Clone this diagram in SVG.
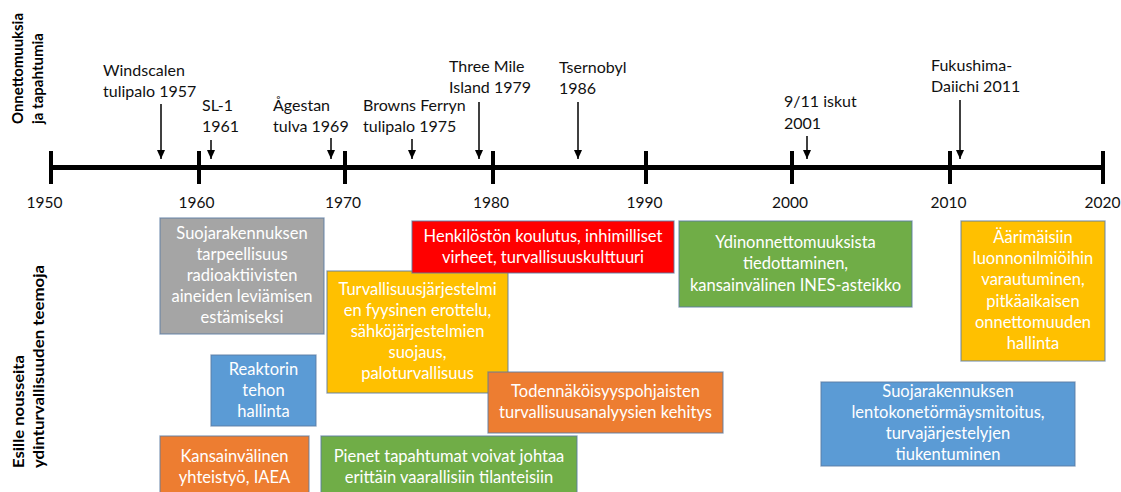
<svg xmlns="http://www.w3.org/2000/svg" width="1121" height="492" viewBox="0 0 1121 492">
<defs>
<marker id="ah" markerWidth="9" markerHeight="8" refX="9" refY="4" orient="auto" markerUnits="userSpaceOnUse" viewBox="0 0 9 8">
<path d="M0,0 L9,4 L0,8 Z" fill="#000"/>
</marker>
<style>
text{font-family:Lato,"Open Sans","Liberation Sans",sans-serif;font-size:16.5px;}
.ev{fill:#111;font-size:16px;}
.yr{fill:#111;text-anchor:middle;font-size:15.5px;}
.ax{font-weight:bold;fill:#000;font-size:16px;}
.bx{fill:#fff;text-anchor:middle;}
.box{stroke:#5a7aa3;stroke-opacity:0.7;stroke-width:1.3;}
.arr{stroke:#000;stroke-width:1.5;fill:none;}
</style>
</defs>
<rect width="1121" height="492" fill="#fff"/>

<g id="axis-labels">
<text class="ax" transform="translate(23,124) rotate(-90)" textLength="111" lengthAdjust="spacingAndGlyphs">Onnettomuuksia</text>
<text class="ax" transform="translate(43,124) rotate(-90)" textLength="91" lengthAdjust="spacingAndGlyphs">ja tapahtumia</text>
<text class="ax" transform="translate(24,468) rotate(-90)" textLength="113" lengthAdjust="spacingAndGlyphs">Esille nousseita</text>
<text class="ax" transform="translate(44,468) rotate(-90)" textLength="203" lengthAdjust="spacingAndGlyphs">ydinturvallisuuden teemoja</text>
</g>

<g id="timeline">
<line x1="50" y1="167.5" x2="1105" y2="167.5" stroke="#000" stroke-width="5"/>
<g stroke="#000" stroke-width="4">
<line x1="51" y1="151" x2="51" y2="184"/>
<line x1="199" y1="151" x2="199" y2="184"/>
<line x1="345" y1="151" x2="345" y2="184"/>
<line x1="493" y1="151" x2="493" y2="184"/>
<line x1="646" y1="151" x2="646" y2="184"/>
<line x1="792" y1="151" x2="792" y2="184"/>
<line x1="950" y1="151" x2="950" y2="184"/>
<line x1="1103" y1="151" x2="1103" y2="184"/>
</g>
<text class="yr" x="44.5" y="208">1950</text>
<text class="yr" x="196.5" y="208">1960</text>
<text class="yr" x="343" y="208">1970</text>
<text class="yr" x="491" y="208">1980</text>
<text class="yr" x="644.5" y="208">1990</text>
<text class="yr" x="790" y="208">2000</text>
<text class="yr" x="948.5" y="208">2010</text>
<text class="yr" x="1102.5" y="208">2020</text>
</g>

<g id="events">
<g id="ev-windscale"><text class="ev" x="103" y="76">Windscalen</text><text class="ev" x="103" y="97">tulipalo 1957</text></g>
<g id="ev-sl1"><text class="ev" x="202" y="111">SL-1</text><text class="ev" x="202" y="132">1961</text></g>
<g id="ev-agestan"><text class="ev" x="273" y="111">Ågestan</text><text class="ev" x="273" y="132">tulva 1969</text></g>
<g id="ev-browns"><text class="ev" x="363" y="111">Browns Ferryn</text><text class="ev" x="363" y="132">tulipalo 1975</text></g>
<g id="ev-tmi"><text class="ev" x="449" y="72">Three Mile</text><text class="ev" x="449" y="93">Island 1979</text></g>
<g id="ev-tsernobyl"><text class="ev" x="559" y="73">Tsernobyl</text><text class="ev" x="559" y="94">1986</text></g>
<g id="ev-911"><text class="ev" x="784" y="107">9/11 iskut</text><text class="ev" x="784" y="129">2001</text></g>
<g id="ev-fukushima"><text class="ev" x="931" y="71">Fukushima-</text><text class="ev" x="931" y="92">Daiichi 2011</text></g>
</g>

<g id="connectors">
<line class="arr" x1="161" y1="104" x2="161" y2="159" marker-end="url(#ah)"/>
<line class="arr" x1="211" y1="140" x2="211" y2="159" marker-end="url(#ah)"/>
<line class="arr" x1="331" y1="138" x2="331" y2="159" marker-end="url(#ah)"/>
<line class="arr" x1="412" y1="139" x2="412" y2="159" marker-end="url(#ah)"/>
<line class="arr" x1="479" y1="102" x2="479" y2="159" marker-end="url(#ah)"/>
<line class="arr" x1="578" y1="102" x2="578" y2="159" marker-end="url(#ah)"/>
<line class="arr" x1="807" y1="136" x2="807" y2="159" marker-end="url(#ah)"/>
<line class="arr" x1="960" y1="100" x2="960" y2="159" marker-end="url(#ah)"/>
</g>

<g id="box-suoja">
<rect class="box" x="160" y="218" width="164" height="116" fill="#A5A5A5"/>
<text class="bx" x="242" y="239">Suojarakennuksen</text>
<text class="bx" x="242" y="260">tarpeellisuus</text>
<text class="bx" x="242" y="281">radioaktiivisten</text>
<text class="bx" x="242" y="302">aineiden leviämisen</text>
<text class="bx" x="242" y="323">estämiseksi</text>
</g>
<g id="box-reaktori">
<rect class="box" x="211" y="355" width="105" height="71" fill="#5B9BD5"/>
<text class="bx" x="263.5" y="375">Reaktorin</text>
<text class="bx" x="263.5" y="396">tehon</text>
<text class="bx" x="263.5" y="417">hallinta</text>
</g>
<g id="box-kansainvalinen">
<rect class="box" x="160" y="436" width="149" height="60" fill="#ED7D31"/>
<text class="bx" x="234.5" y="462">Kansainvälinen</text>
<text class="bx" x="234.5" y="483">yhteistyö, IAEA</text>
</g>
<g id="box-pienet">
<rect class="box" x="321" y="436" width="256" height="60" fill="#70AD47"/>
<text class="bx" x="449" y="462">Pienet tapahtumat voivat johtaa</text>
<text class="bx" x="449" y="483">erittäin vaarallisiin tilanteisiin</text>
</g>
<g id="box-turvajarj">
<rect class="box" x="327" y="271" width="181" height="122" fill="#FFC000"/>
<text class="bx" x="417.5" y="295">Turvallisuusjärjestelmi</text>
<text class="bx" x="417.5" y="316">en fyysinen erottelu,</text>
<text class="bx" x="417.5" y="337">sähköjärjestelmien</text>
<text class="bx" x="417.5" y="358">suojaus,</text>
<text class="bx" x="417.5" y="379">paloturvallisuus</text>
</g>
<g id="box-henkilosto">
<rect class="box" x="412" y="221" width="262" height="52" fill="#FF0000"/>
<text class="bx" x="543" y="242">Henkilöstön koulutus, inhimilliset</text>
<text class="bx" x="543" y="263">virheet, turvallisuuskulttuuri</text>
</g>
<g id="box-todennakoisyys">
<rect class="box" x="488" y="372" width="235" height="61" fill="#ED7D31"/>
<text class="bx" x="605.5" y="397">Todennäköisyyspohjaisten</text>
<text class="bx" x="605.5" y="418">turvallisuusanalyysien kehitys</text>
</g>
<g id="box-ines">
<rect class="box" x="679" y="221" width="233" height="86" fill="#70AD47"/>
<text class="bx" x="795.5" y="248">Ydinonnettomuuksista</text>
<text class="bx" x="795.5" y="269">tiedottaminen,</text>
<text class="bx" x="795.5" y="291">kansainvälinen INES-asteikko</text>
</g>
<g id="box-luonnonilmiot">
<rect class="box" x="961" y="221" width="144" height="140" fill="#FFC000"/>
<text class="bx" x="1033" y="243">Äärimäisiin</text>
<text class="bx" x="1033" y="264">luonnonilmiöihin</text>
<text class="bx" x="1033" y="285">varautuminen,</text>
<text class="bx" x="1033" y="307">pitkäaikaisen</text>
<text class="bx" x="1033" y="328">onnettomuuden</text>
<text class="bx" x="1033" y="349">hallinta</text>
</g>
<g id="box-lentokone">
<rect class="box" x="821" y="382" width="254" height="84" fill="#5B9BD5"/>
<text class="bx" x="948" y="397">Suojarakennuksen</text>
<text class="bx" x="948" y="418">lentokonetörmäysmitoitus,</text>
<text class="bx" x="948" y="439">turvajärjestelyjen</text>
<text class="bx" x="948" y="460">tiukentuminen</text>
</g>
</svg>
